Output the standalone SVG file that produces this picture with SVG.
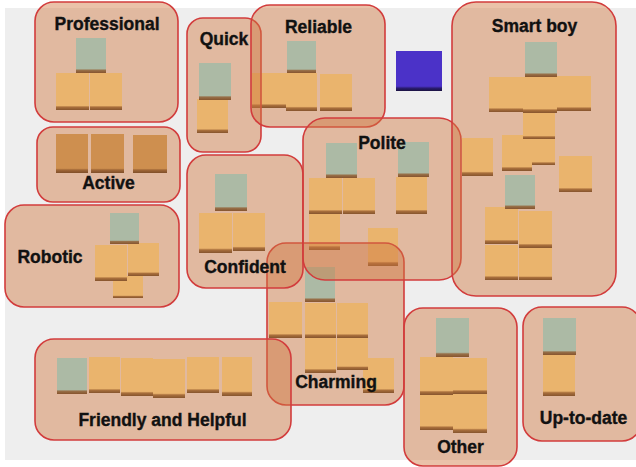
<svg xmlns="http://www.w3.org/2000/svg" width="636" height="467" viewBox="0 0 636 467">
  <defs>
    <style>
      .board { fill: #eeeeee; }
      .o { fill: url(#paperOrange); }
      .od { fill: url(#paperBrown); }
      .g { fill: url(#paperGreen); }
      .pu { fill: url(#paperPurple); }
      .zone { fill: #d17841; fill-opacity: 0.45; stroke: #d23c3c; stroke-width: 1.6; }
      .lbl { font-family: "Liberation Sans", Arial, sans-serif; font-weight: bold; font-size: 17.5px; fill: #111111; stroke: #111111; stroke-width: 0.35; text-anchor: middle; }
    </style>
    <!-- paper colours with a dark curled lower edge -->
    <linearGradient id="paperOrange" x1="0" y1="0" x2="0" y2="1">
      <stop offset="0" stop-color="#ffe593"/>
      <stop offset="0.88" stop-color="#ffe593"/>
      <stop offset="0.92" stop-color="#8a6a3a"/>
      <stop offset="1" stop-color="#4a381f"/>
    </linearGradient>
    <linearGradient id="paperBrown" x1="0" y1="0" x2="0" y2="1">
      <stop offset="0" stop-color="#cca35c"/>
      <stop offset="0.88" stop-color="#cca35c"/>
      <stop offset="0.92" stop-color="#7a5a30"/>
      <stop offset="1" stop-color="#3e2e18"/>
    </linearGradient>
    <linearGradient id="paperGreen" x1="0" y1="0" x2="0" y2="1">
      <stop offset="0" stop-color="#8ef0f7"/>
      <stop offset="0.88" stop-color="#8ef0f7"/>
      <stop offset="0.92" stop-color="#6a6a50"/>
      <stop offset="1" stop-color="#4a381f"/>
    </linearGradient>
    <linearGradient id="paperPurple" x1="0" y1="0" x2="0" y2="1">
      <stop offset="0" stop-color="#4b32c8"/>
      <stop offset="0.88" stop-color="#4b32c8"/>
      <stop offset="0.93" stop-color="#2a1c70"/>
      <stop offset="1" stop-color="#1a1240"/>
    </linearGradient>
  </defs>

  <!-- white page with grey board -->
  <rect x="0" y="0" width="636" height="467" fill="#ffffff"/>
  <rect class="board" x="5" y="8" width="631" height="452"/>

  <!-- sticky notes on the board -->
  <g id="notes">
    <g id="notes-professional">
      <rect class="g" x="76" y="38" width="30" height="35"/>
      <rect class="o" x="56" y="73" width="33" height="37"/>
      <rect class="o" x="90" y="73" width="32" height="37"/>
    </g>
    <g id="notes-quick">
      <rect class="o" x="197" y="99" width="31" height="34"/>
      <rect class="g" x="199" y="63" width="32" height="37"/>
    </g>
    <g id="notes-reliable">
      <rect class="g" x="287" y="41" width="29" height="32"/>
      <rect class="o" x="252" y="73" width="34" height="35"/>
      <rect class="o" x="286" y="73" width="31" height="38"/>
      <rect class="o" x="320" y="74" width="32" height="37"/>
    </g>
    <g id="notes-active">
      <rect class="od" x="56" y="134" width="32" height="39"/>
      <rect class="od" x="91" y="134" width="33" height="39"/>
      <rect class="od" x="133" y="135" width="34" height="38"/>
    </g>
    <g id="notes-robotic">
      <rect class="o" x="113" y="276" width="30" height="22"/>
      <rect class="o" x="95" y="245" width="32" height="36"/>
      <rect class="o" x="128" y="243" width="31" height="33"/>
      <rect class="g" x="110" y="213" width="29" height="31"/>
    </g>
    <g id="notes-confident">
      <rect class="g" x="215" y="174" width="32" height="37"/>
      <rect class="o" x="199" y="213" width="33" height="40"/>
      <rect class="o" x="233" y="213" width="32" height="38"/>
    </g>
    <g id="notes-polite">
      <rect class="o" x="309" y="213" width="31" height="37"/>
      <rect class="o" x="309" y="178" width="33" height="36"/>
      <rect class="o" x="343" y="178" width="32" height="36"/>
      <rect class="o" x="396" y="177" width="31" height="37"/>
      <rect class="g" x="326" y="143" width="31" height="35"/>
      <rect class="g" x="398" y="142" width="31" height="35"/>
      <rect class="o" x="368" y="228" width="30" height="38"/>
    </g>
    <g id="notes-smart-boy">
      <rect class="o" x="523" y="139" width="32" height="26"/>
      <rect class="o" x="502" y="135" width="30" height="36"/>
      <rect class="o" x="523" y="112" width="32" height="27"/>
      <rect class="o" x="489" y="77" width="34" height="35"/>
      <rect class="o" x="523" y="77" width="34" height="36"/>
      <rect class="o" x="557" y="76" width="34" height="35"/>
      <rect class="g" x="525" y="42" width="32" height="35"/>
      <rect class="o" x="462" y="138" width="31" height="38"/>
      <rect class="o" x="559" y="156" width="33" height="36"/>
      <rect class="o" x="485" y="245" width="33" height="35"/>
      <rect class="o" x="519" y="248" width="33" height="32"/>
      <rect class="o" x="485" y="207" width="33" height="37"/>
      <rect class="o" x="519" y="211" width="33" height="37"/>
      <rect class="g" x="505" y="175" width="30" height="34"/>
    </g>
    <g id="notes-charming">
      <rect class="o" x="363" y="358" width="31" height="35"/>
      <rect class="o" x="305" y="337" width="31" height="36"/>
      <rect class="o" x="337" y="338" width="31" height="32"/>
      <rect class="o" x="269" y="302" width="33" height="36"/>
      <rect class="o" x="305" y="303" width="31" height="35"/>
      <rect class="o" x="337" y="303" width="31" height="35"/>
      <rect class="g" x="305" y="267" width="30" height="35"/>
    </g>
    <g id="notes-friendly">
      <rect class="g" x="57" y="358" width="30" height="36"/>
      <rect class="o" x="89" y="357" width="31" height="36"/>
      <rect class="o" x="121" y="358" width="32" height="38"/>
      <rect class="o" x="153" y="359" width="32" height="39"/>
      <rect class="o" x="187" y="357" width="32" height="36"/>
      <rect class="o" x="222" y="357" width="30" height="39"/>
    </g>
    <g id="notes-other">
      <rect class="o" x="420" y="395" width="33" height="35"/>
      <rect class="o" x="453" y="394" width="34" height="39"/>
      <rect class="o" x="420" y="357" width="33" height="38"/>
      <rect class="o" x="453" y="358" width="34" height="36"/>
      <rect class="g" x="436" y="318" width="33" height="39"/>
    </g>
    <g id="notes-up-to-date">
      <rect class="o" x="543" y="355" width="32" height="41"/>
      <rect class="g" x="543" y="318" width="33" height="37"/>
    </g>
    <rect id="note-purple" class="pu" x="396" y="51" width="46" height="40"/>
  </g>

  <!-- highlighted groups with their headings -->
  <g id="charming">
    <rect class="zone" x="267" y="243" width="137" height="162" rx="19"/>
    <text class="lbl" x="336" y="388">Charming</text>
  </g>
  <g id="professional">
    <rect class="zone" x="35" y="2" width="143" height="120" rx="19"/>
    <text class="lbl" x="107" y="30">Professional</text>
  </g>
  <g id="quick">
    <rect class="zone" x="187" y="18" width="74" height="134" rx="16"/>
    <text class="lbl" x="224" y="45">Quick</text>
  </g>
  <g id="reliable">
    <rect class="zone" x="251" y="5" width="134" height="122" rx="19"/>
    <text class="lbl" x="318.5" y="33">Reliable</text>
  </g>
  <g id="active">
    <rect class="zone" x="37" y="127" width="143" height="75" rx="16"/>
    <text class="lbl" x="108.5" y="189">Active</text>
  </g>
  <g id="robotic">
    <rect class="zone" x="5" y="205" width="174" height="102" rx="19"/>
    <text class="lbl" x="50" y="263">Robotic</text>
  </g>
  <g id="confident">
    <rect class="zone" x="187" y="155" width="116" height="133" rx="19"/>
    <text class="lbl" x="245" y="273">Confident</text>
  </g>
  <g id="polite">
    <rect class="zone" x="303" y="118" width="158" height="162" rx="22"/>
    <text class="lbl" x="382" y="149">Polite</text>
  </g>
  <g id="smart-boy">
    <rect class="zone" x="452" y="2" width="164" height="294" rx="24"/>
    <text class="lbl" x="534.5" y="32">Smart boy</text>
  </g>
  <g id="friendly-and-helpful">
    <rect class="zone" x="35" y="339" width="256" height="101" rx="19"/>
    <text class="lbl" x="162.5" y="426">Friendly and Helpful</text>
  </g>
  <g id="other">
    <rect class="zone" x="404" y="308" width="113" height="158" rx="19"/>
    <text class="lbl" x="460.5" y="453">Other</text>
  </g>
  <g id="up-to-date">
    <rect class="zone" x="523" y="307" width="118" height="134" rx="19"/>
    <text class="lbl" x="583.5" y="424">Up-to-date</text>
  </g>
</svg>
